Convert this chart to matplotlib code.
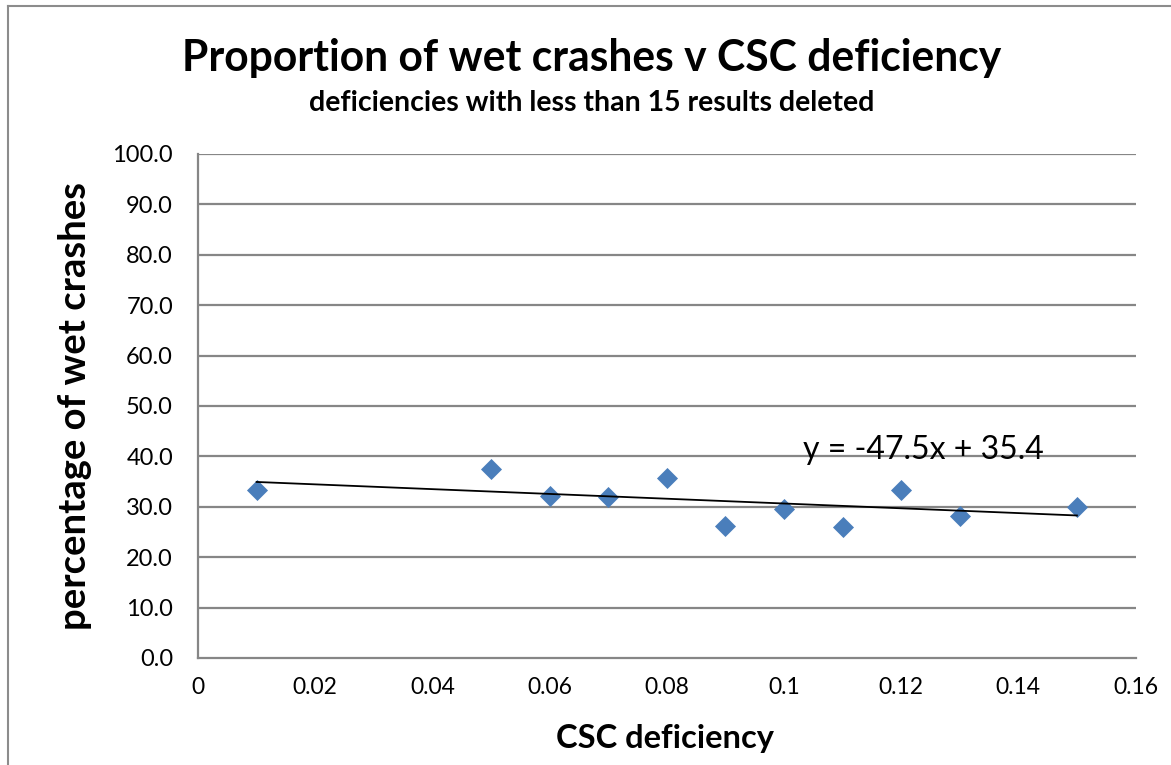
import matplotlib.pyplot as plt
from matplotlib.lines import Line2D

# CSC deficiency vs percentage of wet crashes
deficiency = [0.01, 0.05, 0.06, 0.07, 0.08, 0.09, 0.10, 0.11, 0.12, 0.13, 0.15]
wet_pct = [33.3, 37.5, 32.1, 32.0, 35.8, 26.1, 29.5, 26.0, 33.3, 28.2, 30.0]

# trendline as shown on the chart
slope = -47.5
intercept = 35.4

plt.rcParams['font.family'] = ['Lato', 'DejaVu Sans']

fig = plt.figure(figsize=(11.71, 7.65), dpi=100)
ax = fig.add_axes([0.1691, 0.1399, 0.8006, 0.6588])

grid_col = '#868686'
ax.set_xlim(0, 0.16)
ax.set_ylim(0, 100)
ax.set_yticks(range(0, 101, 10))
ax.set_yticklabels([f'{v:.1f}' for v in range(0, 101, 10)])
ax.set_xticks([0, 0.02, 0.04, 0.06, 0.08, 0.1, 0.12, 0.14, 0.16])
ax.set_xticklabels(['0', '0.02', '0.04', '0.06', '0.08', '0.1', '0.12', '0.14', '0.16'])
ax.tick_params(axis='y', length=0, pad=18, labelsize=17)
ax.tick_params(axis='x', length=0, pad=14, labelsize=16.5)

for v in range(10, 101, 10):
    ax.axhline(v, color=grid_col, lw=1.6, zorder=1)
for side in ['top', 'right']:
    ax.spines[side].set_visible(False)
for side in ['left', 'bottom']:
    ax.spines[side].set_color(grid_col)
    ax.spines[side].set_linewidth(1.6)

ax.scatter(deficiency, wet_pct, marker='D', s=115, color='#4a7ebb', zorder=3, linewidths=0)

x0, x1 = min(deficiency), max(deficiency)
ax.plot([x0, x1], [slope * x0 + intercept, slope * x1 + intercept], color='black', lw=1.3, zorder=4)
ax.text(0.1238, 41.3, 'y = -47.5x + 35.4', fontsize=23, ha='center', va='center', zorder=5)

fig.text(0.505, 0.924, 'Proportion of wet crashes v CSC deficiency', fontsize=30.7,
         fontweight='bold', ha='center', va='center')
fig.text(0.505, 0.865, 'deficiencies with less than 15 results deleted', fontsize=20.5,
         fontweight='bold', ha='center', va='center')
fig.text(0.064, 0.469, 'percentage of wet crashes', fontsize=27.5, fontweight='bold',
         rotation=90, ha='center', va='center')
fig.text(0.568, 0.035, 'CSC deficiency', fontsize=23.5, fontweight='bold', ha='center', va='center')

# chart area border
fig.add_artist(Line2D([8 / 1171, 1], [1 - 6 / 765, 1 - 6 / 765], color='#8c8c8c', lw=1.5))
fig.add_artist(Line2D([8 / 1171, 8 / 1171], [0, 1 - 6 / 765], color='#8c8c8c', lw=1.5))

fig.savefig('out.png', dpi=100)
